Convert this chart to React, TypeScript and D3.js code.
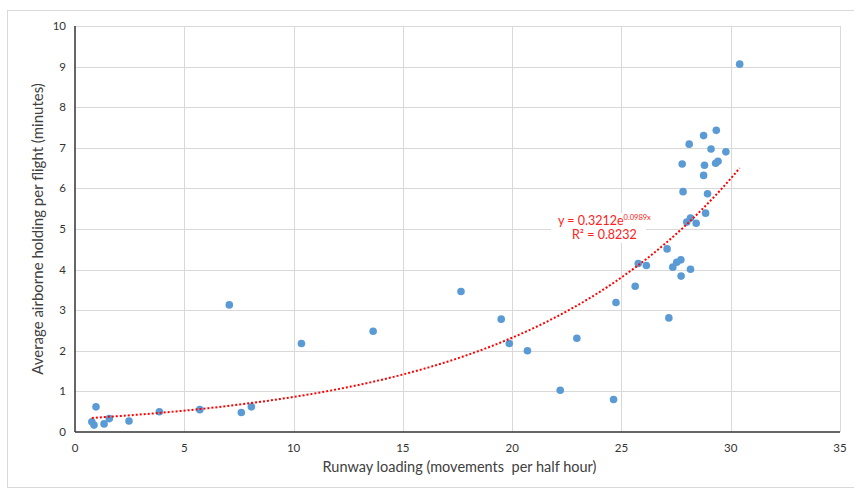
import React from "react";
import * as d3 from "d3";

const xValues = [0.77, 0.87, 0.96, 1.33, 1.57, 2.47, 3.86, 5.71, 7.06, 7.61, 8.07, 10.36,
  13.64, 17.66, 19.5, 19.87, 20.7, 22.2, 22.96, 24.64, 24.75, 25.63, 25.77, 26.14,
  27.09, 27.17, 27.35, 27.53, 27.72, 27.73, 28.16,
  30.41, 29.34, 28.76, 28.1, 29.1, 29.78, 27.78, 28.8, 29.31, 29.42, 28.76, 27.82, 28.94,
  28.85, 28.16, 27.99, 28.42];
const yValues = [0.25, 0.17, 0.62, 0.2, 0.33, 0.27, 0.5, 0.55, 3.13, 0.48, 0.62, 2.18,
  2.48, 3.46, 2.78, 2.18, 2.0, 1.03, 2.31, 0.8, 3.19, 3.59, 4.15, 4.1,
  4.51, 2.81, 4.06, 4.18, 4.24, 3.84, 4.01,
  9.06, 7.43, 7.3, 7.09, 6.97, 6.9, 6.6, 6.57, 6.62, 6.67, 6.32, 5.92, 5.87,
  5.39, 5.27, 5.17, 5.14];
const xTicks = [0, 5, 10, 15, 20, 25, 30, 35];
const yTicks = [0, 1, 2, 3, 4, 5, 6, 7, 8, 9, 10];
const trendA = 0.3212;
const trendB = 0.0989;

const W = 854, H = 490;
const FONT = "Lato, 'Open Sans', sans-serif";

export default function App() {
  const x = d3.scaleLinear().domain([0, 35]).range([75, 840]);
  const y = d3.scaleLinear().domain([0, 10]).range([432, 26]);
  const xmin = d3.min(xValues)!, xmax = d3.max(xValues)!;
  const trendPts = d3.range(0, 101).map(i => {
    const xv = xmin + (xmax - xmin) * i / 100;
    return [xv, trendA * Math.exp(trendB * xv)] as [number, number];
  });
  const line = d3.line<[number, number]>().x(d => x(d[0])).y(d => y(d[1]));
  return (
    <svg width={W} height={H} style={{ position: "absolute", left: 0, top: 0 }}>
      <rect x={0} y={0} width={W} height={H} fill="#fff" />
      <rect x={7.5} y={10.5} width={W} height={477} fill="#fff" stroke="#D9D9D9" strokeWidth={1} />
      {yTicks.filter(t => t > 0).map(t => (
        <line key={"gy" + t} x1={x(0)} x2={x(35)} y1={Math.round(y(t)) + 0.5} y2={Math.round(y(t)) + 0.5} stroke="#D9D9D9" strokeWidth={1} />
      ))}
      {xTicks.filter(t => t > 0).map(t => (
        <line key={"gx" + t} x1={Math.round(x(t)) + 0.5} x2={Math.round(x(t)) + 0.5} y1={y(10)} y2={y(0)} stroke="#D9D9D9" strokeWidth={1} />
      ))}
      <line x1={x(0)} x2={x(0)} y1={y(10)} y2={y(0)} stroke="#333333" strokeWidth={1.5} />
      <line x1={x(0)} x2={x(35)} y1={y(0)} y2={y(0)} stroke="#333333" strokeWidth={1.5} />
      {yTicks.map(t => (
        <text key={"ty" + t} x={x(0) - 9} y={y(t)} dy="0.35em" textAnchor="end" fontFamily={FONT} fontSize={11.5} fill="#333333">{t}</text>
      ))}
      {xTicks.map(t => (
        <text key={"tx" + t} x={x(t)} y={y(0) + 16} dy="0.35em" textAnchor="middle" fontFamily={FONT} fontSize={11.5} fill="#333333">{t}</text>
      ))}
      <text x={(x(0) + x(35)) / 2 + 2} y={467} dy="0.35em" textAnchor="middle" fontFamily={FONT} fontSize={14.5} fill="#404040">Runway loading (movements&#160; per half hour)</text>
      <text transform={`translate(38,${(y(0) + y(10)) / 2}) rotate(-90)`} dy="0.35em" textAnchor="middle" fontFamily={FONT} fontSize={15} fill="#404040">Average airborne holding per flight (minutes)</text>
      {xValues.map((xv, i) => (
        <circle key={"p" + i} cx={x(xv)} cy={y(yValues[i])} r={3.8} fill="#5B9BD5" />
      ))}
      <path d={line(trendPts)!} fill="none" stroke="#FF0000" strokeWidth={2} strokeDasharray="2,2" />
      <rect x={551} y={213} width={95} height={30} fill="#fff" />
      <text x={558} y={225} fontFamily={FONT} fontSize={12.5} fill="#FF2020">y = 0.3212e<tspan fontSize={7.5} dy={-5}>0.0989x</tspan></text>
      <text x={572} y={239} fontFamily={FONT} fontSize={12.5} fill="#FF2020">R² = 0.8232</text>
    </svg>
  );
}
